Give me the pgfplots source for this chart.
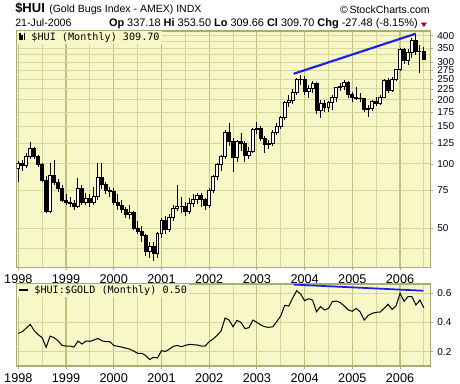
\documentclass[border=0pt]{standalone}
\usepackage{fontspec}
\setmainfont{Liberation Sans}
\newfontfamily\mono{DejaVu Sans Mono}
\usepackage{pgfplots}
\usepackage{pgfplotstable}
\pgfplotsset{compat=1.18}
\usepgfplotslibrary{statistics}
\definecolor{bg}{RGB}{248,247,200}
\definecolor{gridc}{RGB}{214,214,158}
\definecolor{yearc}{RGB}{190,196,128}
\definecolor{axisc}{RGB}{170,172,118}
\definecolor{trend}{RGB}{30,30,235}
\definecolor{dnred}{RGB}{180,0,30}

\pgfplotstableread{
m o h l c
0 95 103 82 100
1 100 104 93 98
2 98 112 96 108
3 108 127 106 118
4 118 120 105 108
5 108 110 97 99
6 99 101 82 84
7 84 88 59 60
8 60 101 59 88
9 88 104 80 82
10 82 85 74 77
11 77 80 66 67
12 67 72 64 66
13 66 70 63 65
14 65 68 61 63
15 63 86 62 77
16 77 80 64 66
17 66 73 64 69
18 69 72 63 66
19 66 78 64 70
20 70 101 68 86
21 86 101 76 80
22 80 82 72 75
23 75 78 70 74
24 74 77 64 66
25 66 72 61 64
26 64 68 59 61
27 61 63 56 58
28 58 64 55 59
29 59 60 49 50
30 50 54 47 48
31 48 51 43 46
32 46 47 37 39
33 39 43 36 41
34 41 43 35 38
35 38 48 36 47
36 47 56 45 54
37 54 57 47 49
38 49 58 48 56
39 56 64 54 62
40 62 80 60 63
41 63 70 59 63
42 63 66 57 60
43 60 69 58 65
44 65 72 63 68
45 68 73 65 71
46 71 73 63 68
47 68 69 61 64
48 64 77 62 75
49 75 89 73 87
50 87 101 84 99
51 99 110 93 108
52 108 145 105 141
53 141 156 122 127
54 127 132 92 107
55 107 130 102 127
56 127 140 115 125
57 125 128 102 110
58 110 120 105 115
59 115 148 113 145
60 145 158 138 146
61 146 150 128 132
62 132 135 113 124
63 124 130 118 125
64 125 145 122 141
65 141 155 136 150
66 150 168 146 165
67 165 198 160 195
68 195 210 185 198
69 198 225 192 216
70 216 252 210 249
71 249 262 235 250
72 250 258 210 218
73 218 235 205 225
74 225 245 215 238
75 238 242 172 179
76 179 200 165 193
77 193 200 176 184
78 184 198 175 195
79 195 210 180 205
80 205 230 195 228
81 228 240 220 232
82 232 248 222 240
83 240 245 205 213
84 213 218 196 205
85 205 230 200 204
86 204 215 195 202
87 202 205 175 180
88 180 190 166 182
89 182 200 178 196
90 196 206 188 193
91 193 210 190 206
92 206 250 203 246
93 246 252 215 222
94 222 255 218 250
95 250 280 245 277
96 277 350 275 346
97 346 352 295 305
98 305 345 290 333
99 333 390 315 380
100 380 405 325 337
101 337 362 268 337
102 337.18 353.5 309.66 309.7
}\hui

\pgfplotstableread{
m r
0 0.326
1 0.337
2 0.362
3 0.387
4 0.344
5 0.317
6 0.296
7 0.230
8 0.307
9 0.296
10 0.275
11 0.243
12 0.239
13 0.239
14 0.232
15 0.273
16 0.253
17 0.273
18 0.271
19 0.280
20 0.291
21 0.275
22 0.269
23 0.269
24 0.243
25 0.237
26 0.232
27 0.225
28 0.218
29 0.205
30 0.189
31 0.189
32 0.175
33 0.147
34 0.161
35 0.157
36 0.207
37 0.202
38 0.218
39 0.237
40 0.243
41 0.234
42 0.243
43 0.250
44 0.248
45 0.246
46 0.239
47 0.239
48 0.269
49 0.287
50 0.312
51 0.342
52 0.431
53 0.417
54 0.371
55 0.415
56 0.401
57 0.358
58 0.365
59 0.417
60 0.401
61 0.383
62 0.371
63 0.367
64 0.371
65 0.406
66 0.445
67 0.518
68 0.513
69 0.568
70 0.618
71 0.595
72 0.550
73 0.563
74 0.554
75 0.474
76 0.509
77 0.486
78 0.497
79 0.543
80 0.547
81 0.536
82 0.513
83 0.486
84 0.477
85 0.497
86 0.472
87 0.417
88 0.449
89 0.463
90 0.470
91 0.472
92 0.497
93 0.525
94 0.490
95 0.513
96 0.600
97 0.545
98 0.577
99 0.577
100 0.520
101 0.554
102 0.500
}\ratio

\begin{document}
\begin{tikzpicture}
\path[use as bounding box] (0,0) rectangle (345pt,287.25pt);

\begin{axis}[
  at={(12.525pt,264pt)}, anchor=north west,
  width=310pt, height=177.2pt, scale only axis,
  ymode=log, xmin=1997.966, xmax=2006.629, ymin=32.7, ymax=421,
  axis background/.style={fill=bg},
  axis line style={draw=axisc, line width=0.8pt},
  xtick={1998,1999,2000,2001,2002,2003,2004,2005,2006},
  xticklabels={1998,1999,2000,2001,2002,2003,2004,2005,2006},
  minor xtick={1998.5,1999.5,2000.5,2001.5,2002.5,2003.5,2004.5,2005.5,2006.5},
  ytick={50,75,100,125,150,175,200,225,250,275,300,350,400},
  yticklabels={50,75,100,125,150,175,200,225,250,275,300,350,400},
  minor ytick={40,325,375},
  xmajorgrids, xminorgrids, ymajorgrids, yminorgrids,
  major x grid style={yearc, line width=0.9pt},
  minor x grid style={gridc, line width=0.7pt},
  major y grid style={gridc, line width=0.7pt},
  minor y grid style={gridc, line width=0.7pt},
  ytick pos=right, yticklabel pos=right, xtick pos=left,
  tick align=outside, major tick length=2pt, minor tick length=0pt,
  tick style={axisc, line width=0.6pt},
  xticklabel style={font=\fontsize{9.5}{10}\selectfont},
  yticklabel style={font=\fontsize{7.5}{8}\selectfont},
  boxplot/draw direction=y, boxplot/box extend=0.062, boxplot/whisker extend=0,
]
\pgfplotsforeachungrouped \i in {0,...,102}{%
  \pgfplotstablegetelem{\i}{o}\of\hui \let\cO\pgfplotsretval
  \pgfplotstablegetelem{\i}{h}\of\hui \let\cH\pgfplotsretval
  \pgfplotstablegetelem{\i}{l}\of\hui \let\cL\pgfplotsretval
  \pgfplotstablegetelem{\i}{c}\of\hui \let\cC\pgfplotsretval
  \pgfmathsetmacro\cP{1998+\i/12}%
  \pgfmathsetmacro\cMin{min(\cO,\cC)}%
  \pgfmathsetmacro\cMax{max(\cO,\cC)}%
  \pgfmathsetmacro\cDn{\cC<\cO ? 1 : 0}%
  \ifdim\cDn pt>0.5pt \def\cCol{black}\else\def\cCol{white}\fi
  \edef\temp{\noexpand\addplot[draw=black, fill=\cCol, line width=0.7pt,
    boxplot prepared={draw position=\cP, lower whisker=\cL, lower quartile=\cMin,
    median=\cMax, upper quartile=\cMax, upper whisker=\cH}] coordinates {};}%
  \temp
}
\addplot[trend, line width=1.6pt] coordinates {(2003.77,265) (2006.33,409)};
\node[anchor=north west, fill=bg, inner xsep=1.5pt, inner ysep=1pt,
  font=\mono\fontsize{7.6}{8}\selectfont] at (rel axis cs:0,1)
  {\rule{1.2pt}{5.5pt}\hspace{0.6pt}\rule{1.2pt}{4pt}\hspace{0.6pt}\rule{1.2pt}{5.5pt}\ \$HUI (Monthly) 309.70};
\end{axis}

\begin{axis}[
  at={(12.525pt,74.25pt)}, anchor=north west,
  width=310pt, height=61.5pt, scale only axis,
  xmin=1997.966, xmax=2006.629, ymin=0.102, ymax=0.664,
  axis background/.style={fill=bg},
  axis line style={draw=axisc, line width=0.8pt},
  xtick={1998,1999,2000,2001,2002,2003,2004,2005,2006},
  xticklabels={1998,1999,2000,2001,2002,2003,2004,2005,2006},
  minor xtick={1998.5,1999.5,2000.5,2001.5,2002.5,2003.5,2004.5,2005.5,2006.5},
  ytick={0.2,0.4,0.6}, yticklabels={0.2,0.4,0.6},
  xmajorgrids, xminorgrids, ymajorgrids,
  major x grid style={yearc, line width=0.9pt},
  minor x grid style={gridc, line width=0.7pt},
  major y grid style={gridc, line width=0.7pt},
  ytick pos=right, yticklabel pos=right, xtick pos=left,
  tick align=outside, major tick length=2pt, minor tick length=0pt,
  tick style={axisc, line width=0.6pt},
  xticklabel style={font=\fontsize{9.5}{10}\selectfont},
  yticklabel style={font=\fontsize{7.5}{8}\selectfont},
]
\addplot[black, line width=0.75pt] table[x expr=1998+\thisrow{m}/12, y=r] {\ratio};
\addplot[trend, line width=1.3pt] coordinates {(2003.77,0.660) (2006.49,0.618)};
\node[anchor=north west, fill=bg, inner xsep=1.5pt, inner ysep=1pt,
  font=\mono\fontsize{7.6}{8}\selectfont] at (rel axis cs:0,1)
  {\rule[2pt]{7pt}{1.4pt}\ \$HUI:\$GOLD (Monthly) 0.50};
\end{axis}

% header
\node[anchor=base west, inner sep=0pt, font=\fontsize{9.75}{11}\selectfont\bfseries] at (11.25pt,277.75pt) {\$HUI};
\node[anchor=base west, inner sep=0pt, font=\fontsize{7.9}{9}\selectfont] at (36.75pt,277.75pt) {(Gold Bugs Index - AMEX) INDX};
\node[anchor=base east, inner sep=0pt, font=\fontsize{7.9}{9}\selectfont] at (322.5pt,277.25pt) {\textcopyright\,StockCharts.com};
\node[anchor=base west, inner sep=0pt, font=\fontsize{8}{9}\selectfont] at (11.25pt,267.25pt) {21-Jul-2006};
\node[anchor=base east, inner sep=0pt, font=\fontsize{8.2}{9}\selectfont] at (313.5pt,267.25pt)
  {\textbf{Op} 337.18 \textbf{Hi} 353.50 \textbf{Lo} 309.66 \textbf{Cl} 309.70 \textbf{Chg} -27.48 (-8.15\%)};
\fill[dnred] (315.6pt,270.2pt) -- (320.2pt,270.2pt) -- (317.9pt,267pt) -- cycle;
\end{tikzpicture}
\end{document}
